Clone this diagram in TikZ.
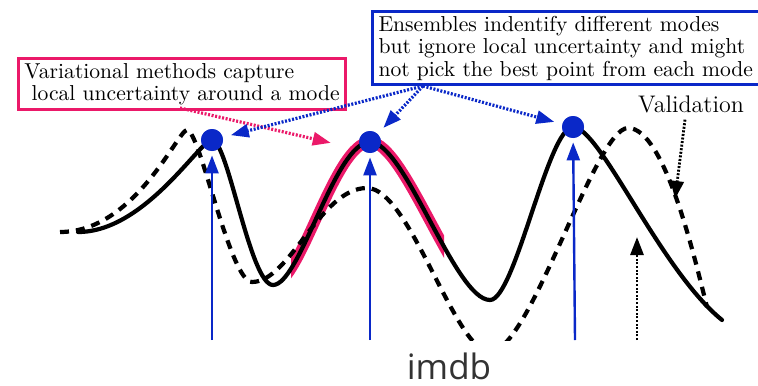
\documentclass[tikz,border=0pt]{standalone}
\usepackage{fontspec}
\newfontfamily\capfont{Open Sans}
\usetikzlibrary{arrows.meta}
\definecolor{modeblue}{RGB}{10,40,200}
\definecolor{varpink}{RGB}{235,25,105}

\begin{document}
\begin{tikzpicture}[x=0.5pt, y=-0.5pt, >=Stealth,
  tip/.style={-{Triangle[length=9pt,width=6.5pt]}},
  note/.style={draw,line width=1.5pt,align=left,inner xsep=3pt,inner ysep=2.3pt,font=\fontsize{10.8}{11.2}\selectfont},
  mode/.style={circle,fill=modeblue,minimum size=11pt,inner sep=0pt},
  hint/.style={tip,line width=1.6pt,dash pattern=on 1pt off 0.8pt,shorten >=4pt},
  curve/.style={line width=2.1pt,line cap=round}]
  \useasboundingbox (0,0) rectangle (758,385);

  % text boxes
  \node[note,draw=varpink,anchor=north west] (vari) at (17,57) {Variational methods capture\\\ local uncertainty around a mode};
  \node[note,draw=modeblue,anchor=north west] (ens) at (371,10) {Ensembles indentify different modes\\but ignore local uncertainty and might\\not pick the best point from each mode};

  % modes
  \node[mode] (m1) at (212,140) {};
  \node[mode] (m2) at (370,142) {};
  \node[mode] (m3) at (573,127) {};

  % local uncertainty band
  \begin{scope}
    \clip (291,0) rectangle (444,340);
    \draw[varpink,line width=5.5pt] (273,285) .. controls (300,285) and (335,142) .. (370,142)
      .. controls (405,142) and (455,300) .. (490,300);
  \end{scope}

  \begin{scope}
    \clip (0,0) rectangle (758,340);
    % solid curve
    \draw[curve] (78,232) .. controls (145,232) and (200,140) .. (212,140)
      .. controls (228,140) and (250,285) .. (273,285)
      .. controls (300,285) and (335,142) .. (370,142)
      .. controls (405,142) and (455,300) .. (490,300)
      .. controls (515,300) and (548,127) .. (573,127)
      .. controls (600,127) and (660,270) .. (722,320);
    % dashed curve
    \draw[curve,line cap=butt,dash pattern=on 4.5pt off 3.5pt] (60,232) .. controls (135,232) and (178,130) .. (187,130)
      .. controls (200,130) and (230,282) .. (252,282)
      .. controls (290,282) and (320,188) .. (367,188)
      .. controls (410,188) and (455,352) .. (490,352)
      .. controls (530,352) and (595,128) .. (628,128)
      .. controls (665,128) and (695,260) .. (707,307);
  \end{scope}
  \node[mode] at (m1) {};
  \node[mode] at (m2) {};
  \node[mode] at (m3) {};

  % vertical arrows into the modes
  \foreach \m/\x in {m1/212,m2/370,m3/575} {
    \coordinate (b\m) at (\x,340);
    \draw[tip,modeblue,line width=1.2pt,shorten >=2pt] (b\m) -- (\m);
  }

  % notes pointing at the modes
  \coordinate (vs) at (180,108);
  \draw[hint,varpink,shorten >=16pt] (vs) -- (m2.south west);
  \coordinate (es) at (423,86);
  \draw[hint,modeblue] (es) -- (m1);
  \draw[hint,modeblue] (es) -- (m2);
  \draw[hint,modeblue] (es) -- (m3);

  % validation and training arrows
  \node[font=\fontsize{12}{13}\selectfont] (val) at (691,104) {Validation};
  \coordinate (vt) at (675,199);
  \draw[tip,line width=1.4pt,dash pattern=on 1pt off 0.8pt] ([xshift=-3pt]val.south) -- (vt);
  \coordinate (tb) at (637,340);
  \coordinate (tt) at (637,237);
  \draw[tip,line width=1.4pt,dash pattern=on 1pt off 0.8pt] (tb) -- (tt);

  \node[font=\capfont\fontsize{17.5}{20}\selectfont,text=black!80,anchor=base,inner sep=0pt] (imdb) at (449,379) {imdb};
\end{tikzpicture}
\end{document}
